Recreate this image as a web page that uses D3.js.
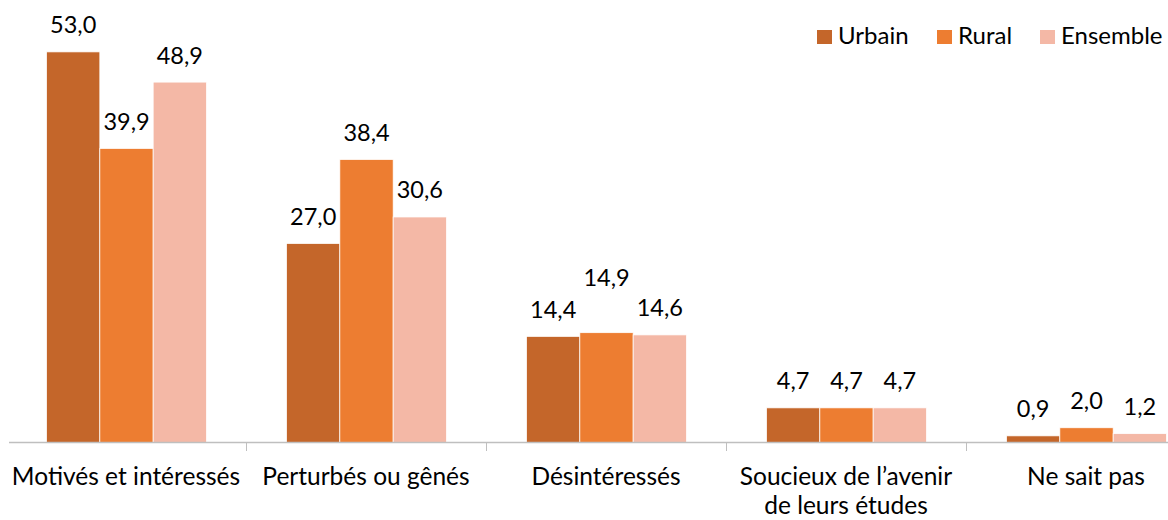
<!DOCTYPE html>
<html>
<head>
<meta charset="utf-8">
<script src="https://cdn.jsdelivr.net/npm/d3@7"></script>
<style>
    body { margin: 0; background: #ffffff; }
    #chart { width: 1168px; height: 520px; }
    text { font-family: Lato, "Open Sans", sans-serif; fill: #000000; }
</style>
</head>
<body>
<div id="chart"></div>
<script>
// categories (x axis), one array per series
const categories = ["Motivés et intéressés", "Perturbés ou gênés", "Désintéressés", "Soucieux de l\u2019avenir de leurs études", "Ne sait pas"];
const categoryLines = [["Motivés et intéressés"], ["Perturbés ou gênés"], ["Désintéressés"], ["Soucieux de l\u2019avenir", "de leurs études"], ["Ne sait pas"]];
const seriesNames = ["Urbain", "Rural", "Ensemble"];
const urbain = [53.0, 27.0, 14.4, 4.7, 0.9];
const rural = [39.9, 38.4, 14.9, 4.7, 2.0];
const ensemble = [48.9, 30.6, 14.6, 4.7, 1.2];

const colors = ["#C4662A", "#ED7D31", "#F4B8A6"];
// labels Excel pushed up to avoid overlap
const raisedLabels = ["Désintéressés|Rural"];

window.onload = function () {
    drawChart();
};

function drawChart() {
    let width = 1168,
        height = 520,
        baseline = 442.5;

    let svg = d3.select("#chart")
        .append("svg")
        .attr("width", width)
        .attr("height", height);

    let values = [urbain, rural, ensemble];
    let data = categories.map(function (c, i) {
        return {
            cat: c,
            lines: categoryLines[i],
            bars: seriesNames.map(function (s, j) { return {series: s, value: values[j][i], idx: j, cat: c}; })
        };
    });

    // x scales: outer band for category, inner band for series
    let x0 = d3.scaleBand()
        .domain(categories)
        .range([6, 1206])
        .padding(0);
    let x1 = d3.scaleBand()
        .domain(seriesNames)
        .range([40.5, 200.5])
        .padding(0);

    let y = d3.scaleLinear()
        .domain([0, 60])
        .range([baseline, 0.3]);

    let color = d3.scaleOrdinal()
        .domain(seriesNames)
        .range(colors);

    let fmt = function (v) { return d3.format(".1f")(v).replace(".", ","); };

    let groups = svg.selectAll("g.cat")
        .data(data)
        .enter()
        .append("g")
        .attr("class", "cat")
        .attr("transform", function (d) { return "translate(" + x0(d.cat) + ",0)"; });

    // bars
    groups.selectAll("rect")
        .data(function (d) { return d.bars; })
        .enter()
        .append("rect")
        .attr("x", function (d) { return x1(d.series); })
        .attr("y", function (d) { return y(d.value); })
        .attr("width", x1.bandwidth())
        .attr("height", function (d) { return baseline - y(d.value); })
        .attr("fill", function (d) { return color(d.series); })
        .attr("stroke", "#ffffff")
        .attr("stroke-width", 0.75);

    // value labels
    groups.selectAll("text.val")
        .data(function (d) { return d.bars; })
        .enter()
        .append("text")
        .attr("class", "val")
        .attr("x", function (d) { return x1(d.series) + x1.bandwidth() / 2; })
        .attr("y", function (d) {
            let raise = raisedLabels.indexOf(d.cat + "|" + d.series) >= 0 ? 28 : 0;
            return y(d.value) - 18.5 - raise;
        })
        .attr("text-anchor", "middle")
        .style("font-size", "23.5px")
        .text(function (d) { return fmt(d.value); });

    // x axis line + ticks between categories
    svg.append("line")
        .attr("x1", 9)
        .attr("x2", width)
        .attr("y1", baseline)
        .attr("y2", baseline)
        .attr("stroke", "#BFBFBF")
        .attr("stroke-width", 1.3);

    svg.selectAll("line.tick")
        .data(categories.slice(1))
        .enter()
        .append("line")
        .attr("class", "tick")
        .attr("x1", function (d) { return Math.round(x0(d)) + 0.5; })
        .attr("x2", function (d) { return Math.round(x0(d)) + 0.5; })
        .attr("y1", baseline)
        .attr("y2", baseline + 8.5)
        .attr("stroke", "#BFBFBF")
        .attr("stroke-width", 1);

    // category labels
    let catLabels = groups.append("text")
        .attr("text-anchor", "middle")
        .style("font-size", "24.5px");
    catLabels.selectAll("tspan")
        .data(function (d) { return d.lines; })
        .enter()
        .append("tspan")
        .attr("x", x0.bandwidth() / 2)
        .attr("y", function (d, i) { return 485 + i * 28.5; })
        .text(function (d) { return d; });

    // legend
    let legendX = [817, 937, 1040];
    let legend = svg.selectAll("g.legend")
        .data(seriesNames)
        .enter()
        .append("g")
        .attr("class", "legend")
        .attr("transform", function (d, i) { return "translate(" + legendX[i] + ",30)"; });
    legend.append("rect")
        .attr("width", 15)
        .attr("height", 14)
        .attr("fill", function (d) { return color(d); });
    legend.append("text")
        .attr("x", 21)
        .attr("y", 13.5)
        .style("font-size", "24px")
        .text(function (d) { return d; });
}
</script>
</body>
</html>
